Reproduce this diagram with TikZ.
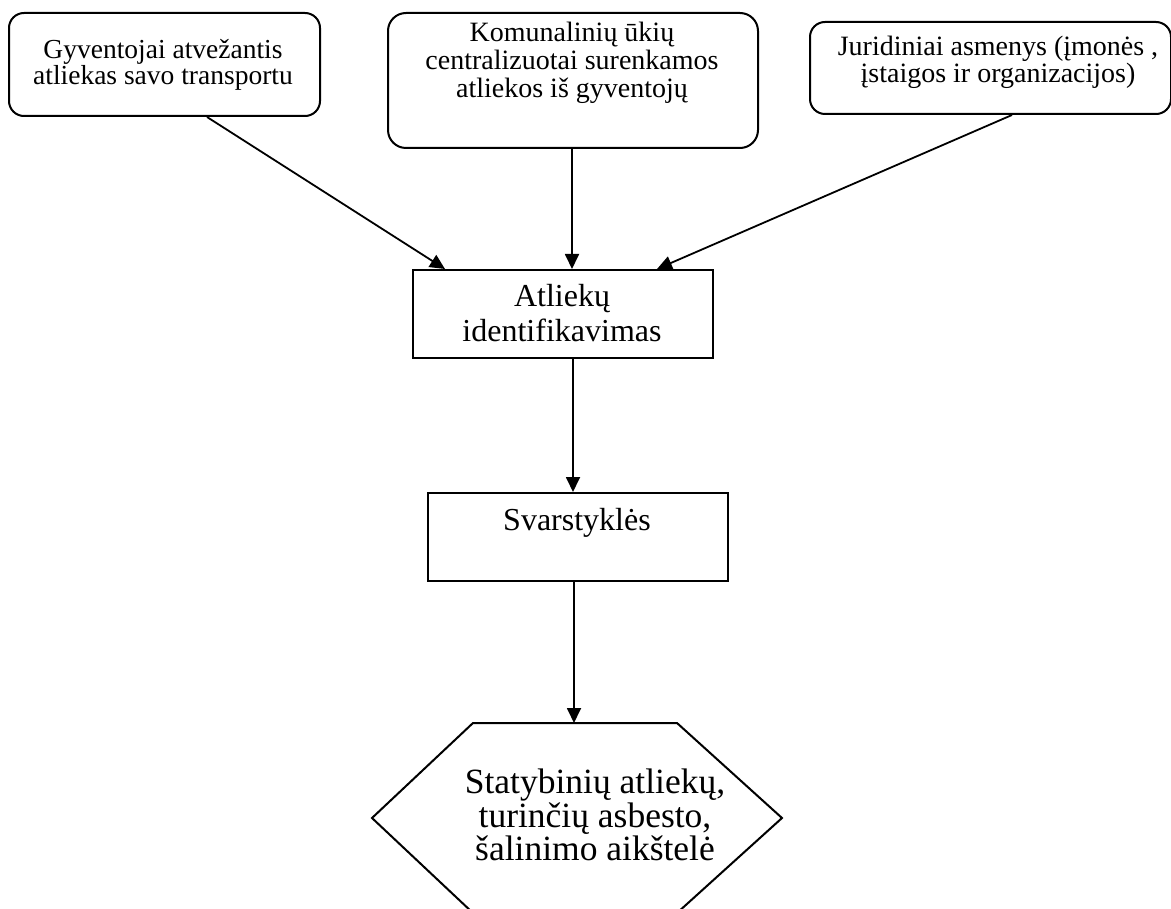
\documentclass[tikz,border=0pt]{standalone}
\usepackage{fontspec}
\setmainfont{Liberation Serif}
\usetikzlibrary{arrows.meta}
\tikzset{
  box/.style={draw, line width=2pt, inner sep=0pt, anchor=north west},
  rbox/.style={box, rounded corners=15pt},
  txt/.style={align=center, inner sep=0pt},
  conn/.style={line width=1.8pt, -{Triangle[length=15pt,width=14pt]}},
}
\begin{document}
\begin{tikzpicture}[x=1pt,y=-1pt]
\clip (0,0) rectangle (1171,909);
\useasboundingbox (0,0) rectangle (1171,909);
% top boxes
\node[rbox, minimum width=311pt, minimum height=103pt] (b1) at (8,12) {};
\node[txt, font=\fontsize{27.5}{25}\selectfont] (t1) at (163,65) {Gyventojai atvežantis\\atliekas savo transportu};
\node[rbox, rounded corners=18pt, minimum width=370pt, minimum height=135pt] (b2) at (387,12) {};
\node[txt, font=\fontsize{28}{28}\selectfont] (t2) at (572,63) {Komunalinių ūkių\\centralizuotai surenkamos\\atliekos iš gyventojų};
\node[rbox, minimum width=361pt, minimum height=92pt] (b3) at (809,21) {};
\node[txt, font=\fontsize{28}{27}\selectfont] (t3) at (998,62) {Juridiniai asmenys (įmonės ,\\įstaigos ir organizacijos)};
% middle boxes
\node[box, minimum width=300pt, minimum height=88pt] (b4) at (412,269) {};
\node[txt, font=\fontsize{32}{35}\selectfont] (t4) at (562,313) {Atliekų\\identifikavimas};
\node[box, minimum width=300pt, minimum height=88pt] (b5) at (427,492) {};
\node[txt, font=\fontsize{32}{35}\selectfont] (t5) at (577,523) {Svarstyklės};
% hexagon
\coordinate (h1) at (473,723);
\coordinate (h2) at (677,723);
\coordinate (h3) at (782,818);
\coordinate (h4) at (677,913);
\coordinate (h5) at (473,913);
\coordinate (h6) at (372,818);
\coordinate (htop) at (574,723);
\draw[line width=2pt, line join=miter] (h1) -- (h2) -- (h3) -- (h4) -- (h5) -- (h6) -- cycle;
\node[txt, font=\fontsize{35.5}{33.5}\selectfont] (t6) at (595,815) {Statybinių atliekų,\\turinčių asbesto,\\šalinimo aikštelė};
% connectors
\coordinate (a1) at (445,269);
\coordinate (a3) at (657,269);
\draw[conn] (b1.south west) ++(199,0) coordinate (s1) -- (a1);
\draw[conn] (b2.south west) ++(185,0) coordinate (s2) -- (b4.north west -| s2);
\draw[conn] (b3.south west) ++(203,0) coordinate (s3) -- (a3);
\draw[conn] (b4.south west) ++(161,0) coordinate (s4) -- (b5.north west -| s4);
\draw[conn] (b5.south west) ++(147,0) coordinate (s5) -- (htop);
\end{tikzpicture}
\end{document}
